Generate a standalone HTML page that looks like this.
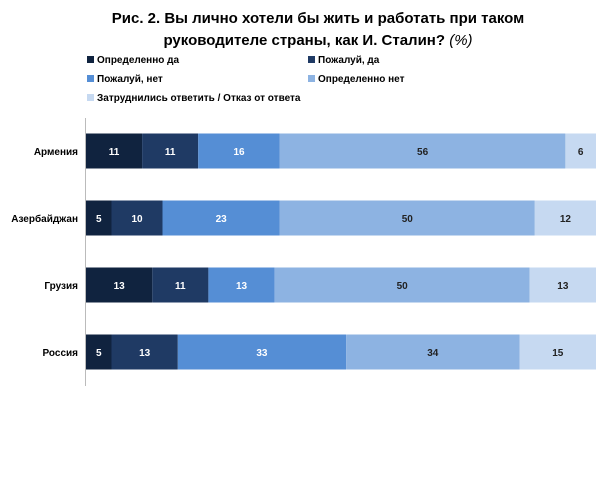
<!DOCTYPE html>
<html><head><meta charset="utf-8"><style>
body{margin:0;background:#fff;font-family:"Liberation Sans",sans-serif;}
svg text{font-family:"Liberation Sans",sans-serif;}
</style></head><body>
<svg width="605" height="495">
<text x="318" y="23" text-anchor="middle" font-size="15" font-weight="bold" fill="#000">Рис. 2. Вы лично хотели бы жить и работать при таком</text>
<text x="318" y="45" text-anchor="middle" font-size="15" font-weight="bold" fill="#000">руководителе страны, как И. Сталин? <tspan font-style="italic" font-weight="normal">(%)</tspan></text>
<g id="legend"></g>
<line x1="85.5" y1="118" x2="85.5" y2="386" stroke="#bbb"/>
<g id="bars"></g>
</svg>
<script>
const categories=["Армения","Азербайджан","Грузия","Россия"];
const seriesNames=["Определенно да","Пожалуй, да","Пожалуй, нет","Определенно нет","Затруднились ответить / Отказ от ответа"];
const s1=[11,5,13,5];
const s2=[11,10,11,13];
const s3=[16,23,13,33];
const s4=[56,50,50,34];
const s5=[6,12,13,15];
const series=[s1,s2,s3,s4,s5];
const colors=["#10233f","#1f3a64","#558ed5","#8db3e2","#c6d9f1"];
const textColors=["#fff","#fff","#fff","#222","#222"];
const NS="http://www.w3.org/2000/svg";
const x0=86,pxPer=5.1,barH=35;
const yc=i=>151+i*67;
const xs=v=>v*pxPer;
const bars=document.getElementById('bars');
categories.forEach((c,i)=>{
  const t=document.createElementNS(NS,'text');
  t.setAttribute('x',78);t.setAttribute('y',yc(i)+4);t.setAttribute('text-anchor','end');
  t.setAttribute('font-size','10');t.setAttribute('font-weight','bold');t.textContent=c;
  
  
  bars.appendChild(t);
  let x=x0;
  series.forEach((s,k)=>{
    const w=xs(s[i]);
    const r=document.createElementNS(NS,'rect');
    r.setAttribute('x',x);r.setAttribute('y',yc(i)-barH/2);r.setAttribute('width',w);r.setAttribute('height',barH);
    r.setAttribute('fill',colors[k]);
    
    
    bars.appendChild(r);
    const l=document.createElementNS(NS,'text');
    l.setAttribute('x',x+w/2);l.setAttribute('y',yc(i)+4);l.setAttribute('text-anchor','middle');
    l.setAttribute('font-size','10');l.setAttribute('font-weight','bold');l.setAttribute('fill',textColors[k]);
    l.textContent=s[i];
    
    
    bars.appendChild(l);
    x+=w;
  });
});
const lg=document.getElementById('legend');
const lpos=[[87,62],[308,62],[87,81],[308,81],[87,100]];
seriesNames.forEach((n,k)=>{
  const r=document.createElementNS(NS,'rect');
  r.setAttribute('x',lpos[k][0]);r.setAttribute('y',lpos[k][1]-6);r.setAttribute('width',7);r.setAttribute('height',7);
  r.setAttribute('fill',colors[k]);
  
  
  lg.appendChild(r);
  const t=document.createElementNS(NS,'text');
  t.setAttribute('x',lpos[k][0]+10);t.setAttribute('y',lpos[k][1]+1);t.setAttribute('font-size','10');t.setAttribute('font-weight','bold');
  t.textContent=n;
  
  
  lg.appendChild(t);
});
</script>
</body></html>
